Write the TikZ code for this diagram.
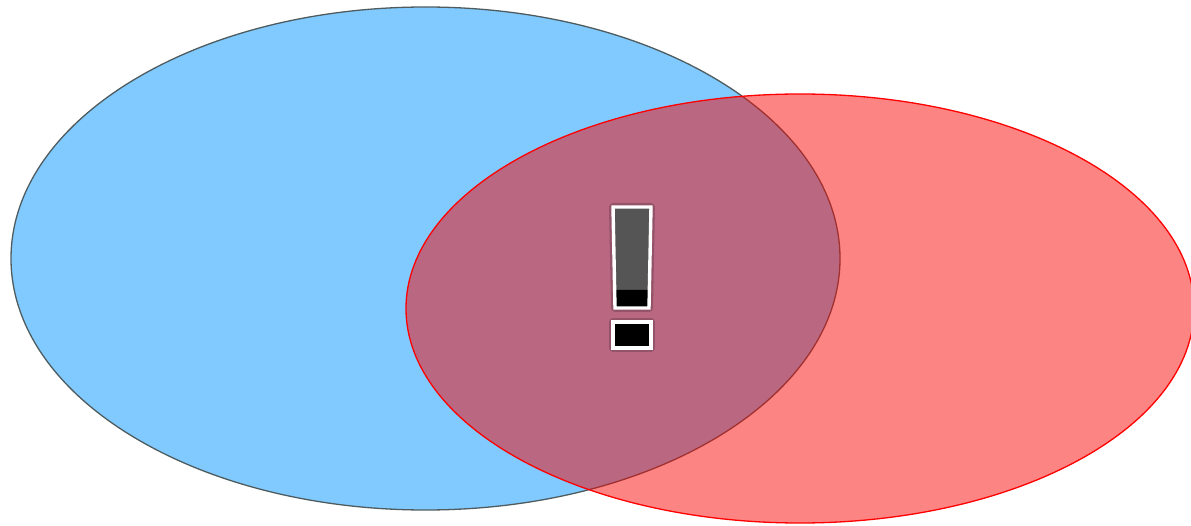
\documentclass[tikz,border=0pt]{standalone}
\usetikzlibrary{shapes.geometric}
\definecolor{bluefill}{RGB}{128,202,255}
\definecolor{blueedge}{RGB}{78,92,96}
\definecolor{redfill}{RGB}{248,4,0}
\definecolor{markgray}{RGB}{85,85,85}
\tikzset{
  setA/.style={fill=bluefill, draw=blueedge, line width=1.3pt},
  setB/.style={fill=redfill, fill opacity=0.49, draw=red, draw opacity=1, line width=1.3pt},
  markedge/.style={draw=white, line width=3.4pt, line join=miter},
  markshadow/.style={draw=black, draw opacity=0.2, line width=8pt, line join=round},
}
\begin{document}
\begin{tikzpicture}[x=1pt,y=-1pt]
\useasboundingbox (0,0) rectangle (1191,526);
% blue set
\draw[setA] (425.5,258.5) ellipse [x radius=414.5, y radius=251.5];
% red set
\draw[setB] (800,308.5) ellipse [x radius=394, y radius=214.5];
% exclamation mark
\draw[markshadow] (613,207) -- (651,207) -- (649,308) -- (615,308) -- cycle;
\draw[markshadow] (613,322) rectangle (651,348);
\fill[markgray] (613,207) -- (651,207) -- (649.35,290) -- (614.65,290) -- cycle;
\fill[black] (614.65,290) -- (649.35,290) -- (649,308) -- (615,308) -- cycle;
\draw[markedge] (613,207) -- (651,207) -- (649,308) -- (615,308) -- cycle;
\draw[markedge, fill=black] (613,322) rectangle (651,348);
\end{tikzpicture}
\end{document}
